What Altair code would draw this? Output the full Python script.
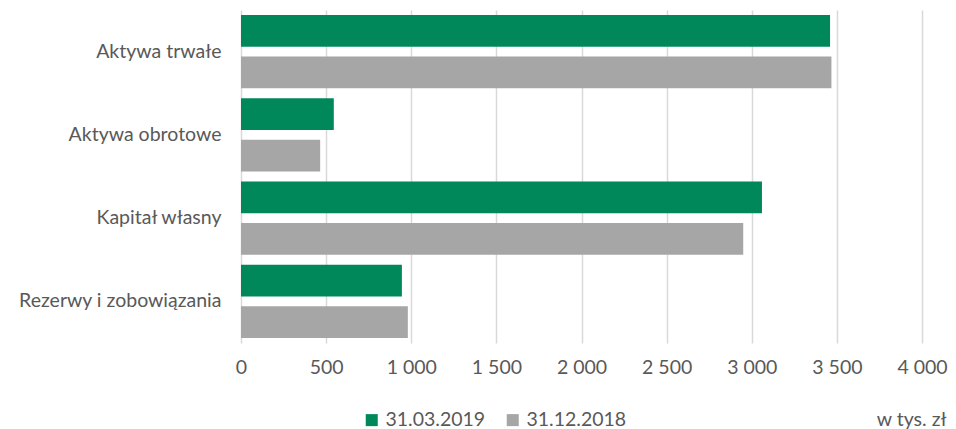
import altair as alt
import pandas as pd

categories = ["Aktywa trwałe", "Aktywa obrotowe", "Kapitał własny", "Rezerwy i zobowiązania"]
series = ["31.03.2019", "31.12.2018"]
values_2019 = [3460, 545, 3060, 945]
values_2018 = [3468, 465, 2950, 980]
x_ticks = [0, 500, 1000, 1500, 2000, 2500, 3000, 3500, 4000]
colors = ["#00885A", "#A6A6A6"]
unit_label = "w tys. zł"

rows = []
for cat, a, b in zip(categories, values_2019, values_2018):
    rows.append({"kategoria": cat, "seria": series[0], "wartosc": a})
    rows.append({"kategoria": cat, "seria": series[1], "wartosc": b})
df = pd.DataFrame(rows)

FONT = "Lato"
TXT = "#595959"
FS = 19.5

chart = (
    alt.Chart(df)
    .mark_bar()
    .encode(
        y=alt.Y(
            "kategoria:N",
            sort=categories,
            scale=alt.Scale(paddingInner=0.12, paddingOuter=0.06),
            axis=alt.Axis(
                title=None, labelFont=FONT, labelFontSize=FS, labelColor=TXT,
                labelPadding=20, ticks=False, domain=False, labelLimit=400,
            ),
        ),
        yOffset=alt.YOffset("seria:N", sort=series, scale=alt.Scale(paddingInner=0.24)),
        x=alt.X(
            "wartosc:Q",
            scale=alt.Scale(domain=[0, 4000], nice=False),
            axis=alt.Axis(
                values=x_ticks, title=unit_label,
                titleX=705, titleY=76, titleAlign="right", titleBaseline="middle",
                titleAnchor="end", titleFont=FONT, titleFontSize=FS,
                titleFontWeight="normal", titleColor=TXT,
                labelExpr="replace(format(datum.value, ',d'), ',', ' ')",
                grid=True, gridColor="#D9D9D9", gridWidth=1.5,
                domain=False, ticks=False, labelPadding=15, labelFlush=False,
                labelOverlap=False,
                labelFont=FONT, labelFontSize=FS, labelColor=TXT,
            ),
        ),
        color=alt.Color(
            "seria:N",
            sort=series,
            scale=alt.Scale(domain=series, range=colors),
            legend=alt.Legend(
                title=None, orient="none", legendX=121, legendY=400,
                direction="horizontal", symbolType="square", symbolSize=144,
                symbolStrokeWidth=0, labelFont=FONT, labelFontSize=FS,
                labelColor=TXT, columnPadding=17, labelOffset=4,
            ),
        ),
    )
    .properties(
        width=681,
        height=333,
        autosize="none",
        padding={"left": 233, "top": 2, "right": 26, "bottom": 86},
    )
    .configure_view(stroke=None)
)

chart.save("out.html", embed_options={"renderer": "svg", "actions": False})
